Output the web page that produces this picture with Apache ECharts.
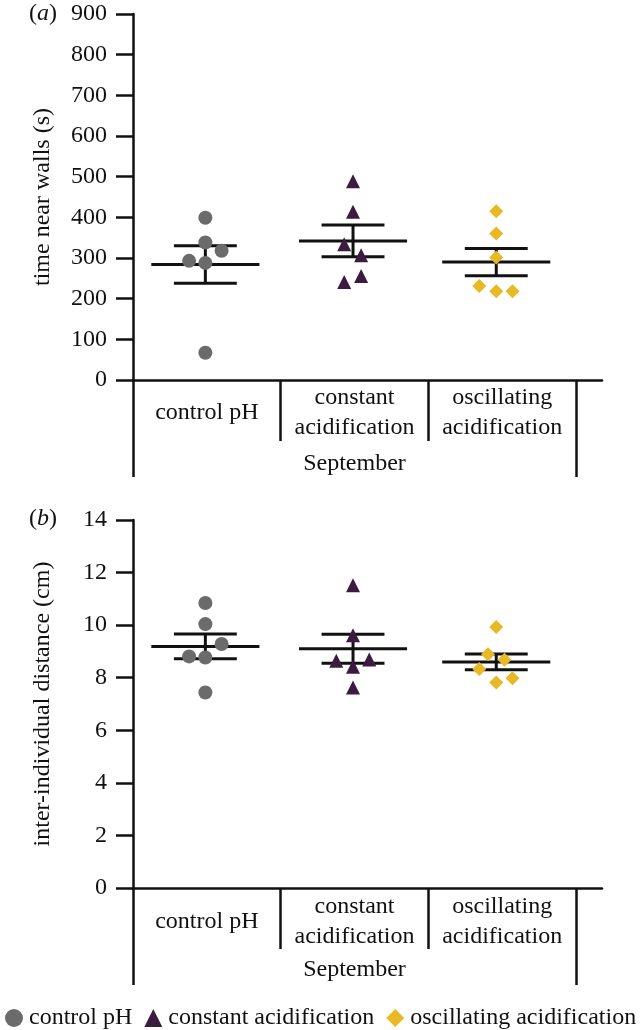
<!DOCTYPE html>
<html>
<head>
<meta charset="utf-8">
<script src="https://cdn.jsdelivr.net/npm/echarts@6/dist/echarts.min.js"></script>
<style>
html,body{margin:0;padding:0;background:#fff;}
#c{width:643px;height:1030px;}
</style>
</head>
<body>
<div id="c"></div>
<script>
// ---- data ----
const categories = ['control pH', 'constant\nacidification', 'oscillating\nacidification'];
const groupLabel = ['September'];
const seriesNames = ['control pH', 'constant acidification', 'oscillating acidification'];
const groupPos = [0.49, 1.49, 2.46];

// panel (a): time near walls (s)
const wallsControl = [399, 338, 318, 293, 288, 67];
const wallsControlJit = [0, 0, 0.11, -0.11, 0, 0];
const wallsConstant = [489, 414, 334, 307, 256, 241];
const wallsConstantJit = [0, 0, -0.06, 0.055, 0.055, -0.06];
const wallsOscill = [415, 360, 301, 231, 218, 218];
const wallsOscillJit = [0, 0, 0, -0.115, 0, 0.11];
const wallsMean = [284, 342, 290];
const wallsSE = [46, 39, 33.5];

// panel (b): inter-individual distance (cm)
const distControl = [10.84, 10.04, 9.28, 8.81, 8.77, 7.44];
const distControlJit = [0, 0, 0.11, -0.11, 0, 0];
const distConstant = [11.52, 9.62, 8.65, 8.69, 8.42, 7.63];
const distConstantJit = [0, 0, -0.113, 0.11, 0, 0];
const distOscill = [9.93, 8.89, 8.68, 8.33, 7.82, 7.98];
const distOscillJit = [0, -0.056, 0.056, -0.115, 0, 0.11];
const distMean = [9.19, 9.10, 8.60];
const distSE = [0.47, 0.55, 0.30];

const yTicksA = {min: 0, max: 900, interval: 100};
const yTicksB = {min: 0, max: 14, interval: 2};

// ---- style ----
const FONT = 'Liberation Serif';
const INK = '#111111';
const colors = ['#6b6b6b', '#3c1b41', '#e8b825'];
const symbols = ['circle', 'triangle', 'diamond'];

const chart = echarts.init(document.getElementById('c'), null, {renderer: 'canvas'});

function pts(vals, jit, gi) {
  return vals.map((v, i) => [groupPos[gi] + jit[i], v]);
}

function renderMean(params, api) {
  const x = api.value(0), m = api.value(1), se = api.value(2);
  const c = api.coord([x, m]);
  const hi = api.coord([x, m + se]);
  const lo = api.coord([x, m - se]);
  const hm = api.size([0.366, 0])[0];
  const hc = api.size([0.213, 0])[0];
  const st = {stroke: INK, lineWidth: 3, fill: null};
  return {
    type: 'group',
    children: [
      {type: 'line', shape: {x1: c[0] - hm, y1: c[1], x2: c[0] + hm, y2: c[1]}, style: st},
      {type: 'line', shape: {x1: c[0] - hc, y1: hi[1], x2: c[0] + hc, y2: hi[1]}, style: st},
      {type: 'line', shape: {x1: c[0] - hc, y1: lo[1], x2: c[0] + hc, y2: lo[1]}, style: st},
      {type: 'line', shape: {x1: c[0], y1: hi[1], x2: c[0], y2: lo[1]}, style: st}
    ]
  };
}

const panels = [
  {top: 14, height: 366, yt: yTicksA, name: 'time near walls (s)',
   sets: [[wallsControl, wallsControlJit], [wallsConstant, wallsConstantJit], [wallsOscill, wallsOscillJit]],
   mean: wallsMean, se: wallsSE, catMargin: 33, septMargin: 84},
  {top: 520, height: 368, yt: yTicksB, name: 'inter-individual distance (cm)',
   sets: [[distControl, distControlJit], [distConstant, distConstantJit], [distOscill, distOscillJit]],
   mean: distMean, se: distSE, catMargin: 34, septMargin: 82}
];

const grid = [], xAxis = [], yAxis = [], series = [];
panels.forEach((p, pi) => {
  const g0 = grid.length;
  grid.push({left: 133, top: p.top, width: 469, height: p.height});
  grid.push({left: 133, top: p.top, width: 443, height: p.height});
  grid.push({left: 133, top: p.top, width: 443, height: p.height});
  // data axes
  xAxis.push({gridIndex: g0, type: 'value', min: 0, max: 469 / (443 / 3),
    axisLine: {show: true, onZero: false, lineStyle: {color: INK, width: 2.5}},
    axisTick: {show: false}, axisLabel: {show: false}, splitLine: {show: false}});
  yAxis.push({gridIndex: g0, type: 'value', min: p.yt.min, max: p.yt.max, interval: p.yt.interval,
    axisLine: {show: true, onZero: false, lineStyle: {color: INK, width: 2.5}},
    axisTick: {show: true, length: 17, lineStyle: {color: INK, width: 2.5}},
    axisLabel: {color: INK, fontFamily: FONT, fontSize: 24, margin: 26},
    splitLine: {show: false},
    name: p.name, nameLocation: 'middle', nameGap: 78,
    nameTextStyle: {color: INK, fontFamily: FONT, fontSize: 24}});
  // category label axis
  xAxis.push({gridIndex: g0 + 1, type: 'category', data: categories, position: 'bottom',
    axisLine: {show: false},
    axisTick: {show: true, length: 61, lineStyle: {color: INK, width: 2.5}},
    axisLabel: {color: INK, fontFamily: FONT, fontSize: 24, lineHeight: 30, margin: p.catMargin,
      verticalAlign: 'middle', interval: 0}});
  yAxis.push({gridIndex: g0 + 1, type: 'value', show: false});
  // group axis
  xAxis.push({gridIndex: g0 + 2, type: 'category', data: groupLabel, position: 'bottom',
    axisLine: {show: false},
    axisTick: {show: true, length: 97, lineStyle: {color: INK, width: 2.5}},
    axisLabel: {color: INK, fontFamily: FONT, fontSize: 24, margin: p.septMargin, verticalAlign: 'middle'}});
  yAxis.push({gridIndex: g0 + 2, type: 'value', show: false});

  series.push({type: 'custom', xAxisIndex: g0, yAxisIndex: g0, renderItem: renderMean,
    encode: {x: 0, y: 1}, z: 3, silent: true,
    data: p.mean.map((m, i) => [groupPos[i], m, p.se[i]])});
  p.sets.forEach((s, si) => {
    series.push({type: 'scatter', name: seriesNames[si], xAxisIndex: g0, yAxisIndex: g0,
      symbol: symbols[si], symbolSize: 14, z: 4,
      itemStyle: {color: colors[si], opacity: 1},
      data: pts(s[0], s[1], si)});
  });
});

chart.setOption({
  animation: false,
  backgroundColor: '#fff',
  grid, xAxis, yAxis, series,
  legend: {
    data: seriesNames, left: 0, top: 1001, itemGap: 12, itemWidth: 18, itemHeight: 18,
    textStyle: {color: INK, fontFamily: FONT, fontSize: 24, padding: [0, 0, 0, 1]}
  },
  graphic: [
    {type: 'text', left: 29, top: 2, style: {text: '({i|a})', font: '24px "Liberation Serif"', fill: INK,
      rich: {i: {fontStyle: 'italic', fontFamily: FONT, fontSize: 24, fill: INK}}}},
    {type: 'text', left: 29, top: 507, style: {text: '({i|b})', font: '24px "Liberation Serif"', fill: INK,
      rich: {i: {fontStyle: 'italic', fontFamily: FONT, fontSize: 24, fill: INK}}}}
  ]
});
</script>
</body>
</html>
